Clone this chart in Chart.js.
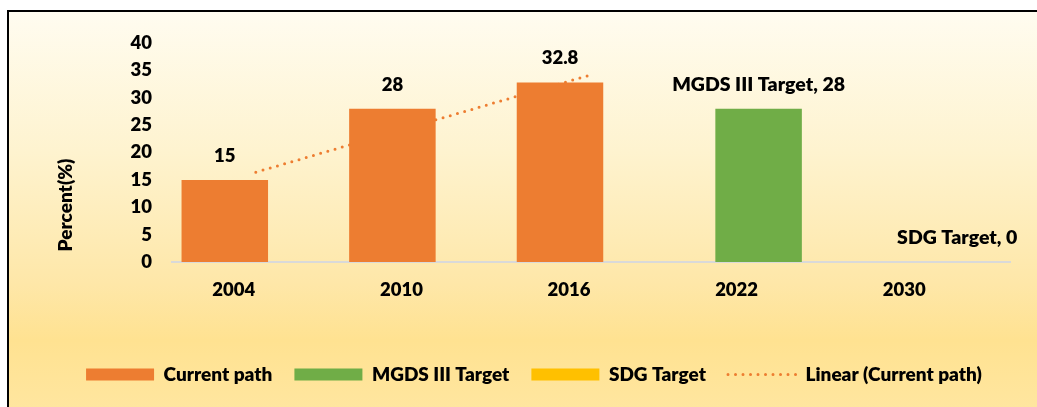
<!DOCTYPE html>
<html><head><meta charset="utf-8">
<script src="https://cdn.jsdelivr.net/npm/chart.js@4.4.1/dist/chart.umd.min.js"></script>
<style>
html,body{margin:0;padding:0;background:#fff;width:1037px;height:407px;overflow:hidden}
#frame{position:absolute;left:7px;top:10px;width:1040px;height:400px;border-left:2px solid #000;border-top:2px solid #000;
background:linear-gradient(180deg,#FFFCF0 0%,#FEF3CF 35%,#FEE7A8 68%,#FFE291 82%,#FFE6A0 100%)}
canvas{position:absolute;left:0;top:0}
</style></head><body>
<div id="frame"></div>
<canvas id="c" width="1037" height="407"></canvas>
<script>
const categories = ['2004', '2010', '2016', '2022', '2030'];
const currentPath = [15, 28, 32.8, null, null];
const mgdsTarget = [null, null, null, 28, null];
const sdgTarget = [null, null, null, null, 0];
const linearTrend = [16.4, 25.3, 34.2, null, null];
const yTickValues = [0, 5, 10, 15, 20, 25, 30, 35, 40];
const yAxisTitle = 'Percent(%)';

const FONT = 'Lato, "Liberation Sans", sans-serif';
const W = '800';
Chart.defaults.color = '#000';
Chart.defaults.font.family = FONT;
Chart.defaults.font.weight = W;
Chart.defaults.font.size = 18;

const valueLabels = {
  id: 'valueLabels',
  afterDatasetsDraw(chart) {
    const ctx = chart.ctx;
    ctx.save();
    ctx.fillStyle = '#000';
    ctx.textAlign = 'center';
    ctx.textBaseline = 'middle';
    chart.data.datasets.forEach((ds, i) => {
      if (ds.type === 'line') return;
      const meta = chart.getDatasetMeta(i);
      meta.data.forEach((el, j) => {
        const v = ds.data[j];
        if (v === null || v === undefined) return;
        const txt = ds.showName ? ds.label + ', ' + v : String(v);
        ctx.font = W + ' ' + (ds.showName ? 19.5 : 18.5) + 'px ' + FONT;
        ctx.fillText(txt, el.x, el.y - 24);
      });
    });
    ctx.restore();
  }
};

const yTitle = {
  id: 'yTitle',
  afterDraw(chart) {
    const ctx = chart.ctx, a = chart.chartArea;
    ctx.save();
    ctx.translate(a.left - 106, a.bottom - 57);
    ctx.rotate(-Math.PI / 2);
    ctx.font = W + ' 19px ' + FONT;
    ctx.fillStyle = '#000';
    ctx.textAlign = 'center';
    ctx.textBaseline = 'middle';
    ctx.fillText(yAxisTitle, 0, 0);
    ctx.restore();
  }
};

new Chart(document.getElementById('c'), {
  type: 'bar',
  data: {
    labels: categories,
    datasets: [
      { label: 'Current path', data: currentPath, backgroundColor: '#ED7D31', borderWidth: 0, order: 1 },
      { label: 'MGDS III Target', data: mgdsTarget, backgroundColor: '#70AD47', borderWidth: 0, order: 1, showName: true },
      { label: 'SDG Target', data: sdgTarget, backgroundColor: '#FFC000', borderWidth: 0, order: 1, showName: true },
      { type: 'line', label: 'Linear (Current path)', data: linearTrend, borderColor: '#ED7D31', backgroundColor: '#ED7D31',
        borderWidth: 3, borderDash: [0, 7.5], borderCapStyle: 'round', pointRadius: 0, fill: false, order: 10 }
    ]
  },
  options: {
    responsive: false,
    animation: false,
    devicePixelRatio: 1,
    categoryPercentage: 0.555,
    barPercentage: 2.79,
    layout: { padding: { left: 58, right: 27, top: 43, bottom: 13 } },
    plugins: {
      tooltip: { enabled: false },
      legend: {
        position: 'bottom',
        labels: {
          usePointStyle: true,
          pointStyleWidth: 68,
          boxHeight: 12,
          padding: 22,
          font: { size: 19, weight: W, family: FONT },
          sort: (a, b) => a.datasetIndex - b.datasetIndex,
          generateLabels(chart) {
            const items = Chart.defaults.plugins.legend.labels.generateLabels(chart);
            items.forEach(it => {
              const ds = chart.data.datasets[it.datasetIndex];
              if (ds.type === 'line') {
                it.pointStyle = 'line';
                it.strokeStyle = ds.borderColor;
                it.lineWidth = 3;
                it.lineDash = [0, 7.5];
                it.lineCap = 'round';
              } else {
                it.pointStyle = 'rect';
                it.fillStyle = ds.backgroundColor;
                it.strokeStyle = ds.backgroundColor;
                it.lineWidth = 0;
              }
            });
            return items;
          }
        }
      }
    },
    scales: {
      x: {
        grid: { display: true, drawOnChartArea: false, drawTicks: false },
        border: { display: true, color: '#D9D9D9', width: 2 },
        ticks: { padding: 17, labelOffset: -22, autoSkip: false, maxRotation: 0, font: { size: 18.5, weight: W, family: FONT } },
        afterFit(s) { s.height = 81; }
      },
      y: {
        min: 0, max: 40,
        afterBuildTicks(s) { s.ticks = yTickValues.map(v => ({ value: v })); },
        grid: { display: false, drawTicks: false },
        border: { display: false },
        ticks: { padding: 20, autoSkip: false, font: { size: 18.5, weight: W, family: FONT } },
        afterFit(s) { s.width = 114; }
      }
    }
  },
  plugins: [valueLabels, yTitle]
});
</script>
</body></html>
